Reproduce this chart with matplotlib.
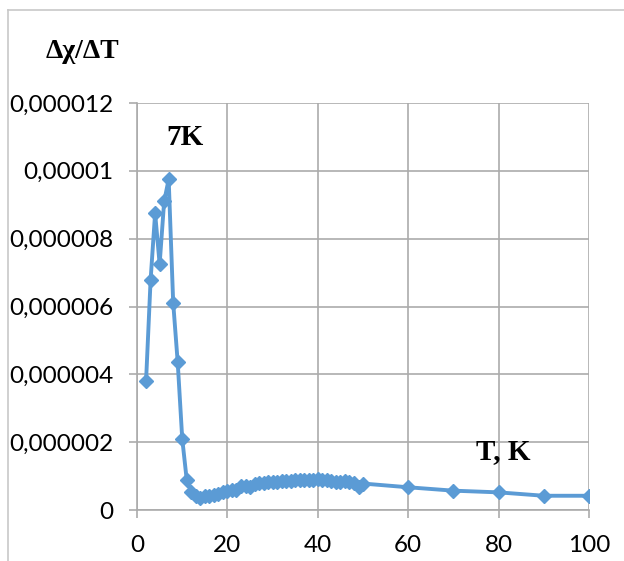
import matplotlib.pyplot as plt
from matplotlib.lines import Line2D

# temperature, K
temps = [2, 3, 4, 5, 6, 7, 8, 9, 10, 11,
         12, 13, 14, 15, 16, 17, 18, 19, 20, 21,
         22, 23, 24, 25, 26, 27, 28, 29, 30, 31,
         32, 33, 34, 35, 36, 37, 38, 39, 40, 41,
         42, 43, 44, 45, 46, 47, 48, 49, 50,
         60, 70, 80, 90, 100]

# d(chi)/dT, in units of 1e-6
dchi = [3.81, 6.78, 8.75, 7.25, 9.10, 9.75, 6.11, 4.35, 2.10, 0.88,
        0.52, 0.42, 0.35, 0.40, 0.42, 0.45, 0.48, 0.52, 0.56, 0.60,
        0.60, 0.72, 0.72, 0.68, 0.78, 0.80, 0.80, 0.82, 0.83, 0.84,
        0.85, 0.86, 0.86, 0.87, 0.87, 0.88, 0.88, 0.89, 0.90, 0.88,
        0.87, 0.86, 0.84, 0.83, 0.85, 0.84, 0.80, 0.68, 0.78,
        0.67, 0.57, 0.52, 0.42, 0.42]

yticks = [0, 2e-6, 4e-6, 6e-6, 8e-6, 10e-6, 12e-6]
ytick_labels = ["0", "0,000002", "0,000004", "0,000006", "0,000008", "0,00001", "0,000012"]
xticks = [0, 20, 40, 60, 80, 100]

grid_col = "#ababab"
line_col = "#5b9bd5"

fig = plt.figure(figsize=(6.24, 5.61), dpi=100)
ax = fig.add_axes([0.2196, 0.0909, 0.7244, 0.7255])

ax.plot(temps, [v * 1e-6 for v in dchi], color=line_col, lw=2.8,
        marker="D", markersize=7.5, zorder=3)

ax.set_xlim(0, 100)
ax.set_ylim(0, 12e-6)
ax.set_xticks(xticks)
ax.set_xticklabels([str(t) for t in xticks])
ax.set_yticks(yticks)
ax.set_yticklabels(ytick_labels)

ax.grid(True, color=grid_col, lw=1.2)
ax.set_axisbelow(True)
for side in ["top", "right"]:
    ax.spines[side].set_visible(False)
for side in ["left", "bottom"]:
    ax.spines[side].set_color(grid_col)
    ax.spines[side].set_linewidth(1.2)

ax.tick_params(axis="both", direction="out", length=6, width=1.2,
               color=grid_col, labelsize=17.5)
ax.tick_params(axis="x", pad=12)
ax.tick_params(axis="y", pad=11)
for lab in ax.get_xticklabels() + ax.get_yticklabels():
    lab.set_fontfamily("Lato")

# annotations
ax.text(10.6, 10.97e-6, "7K", fontsize=21, fontweight="bold",
        family="Liberation Serif", ha="center", va="center")
ax.text(81, 1.71e-6, "T, K", fontsize=21, fontweight="bold",
        family="Liberation Serif", ha="center", va="center")
fig.text(82 / 624, 1 - 52 / 561, "\u0394\u03c7/\u0394T", fontsize=20,
         fontweight="bold", family="Liberation Serif", ha="center", va="center")

# outer chart frame
fig.add_artist(Line2D([8 / 624, 1], [1 - 10 / 561, 1 - 10 / 561],
                      color="#c8c8c8", lw=1.2, transform=fig.transFigure))
fig.add_artist(Line2D([8 / 624, 8 / 624], [0, 1 - 10 / 561],
                      color="#c8c8c8", lw=1.2, transform=fig.transFigure))

fig.savefig("out.png", dpi=100)
